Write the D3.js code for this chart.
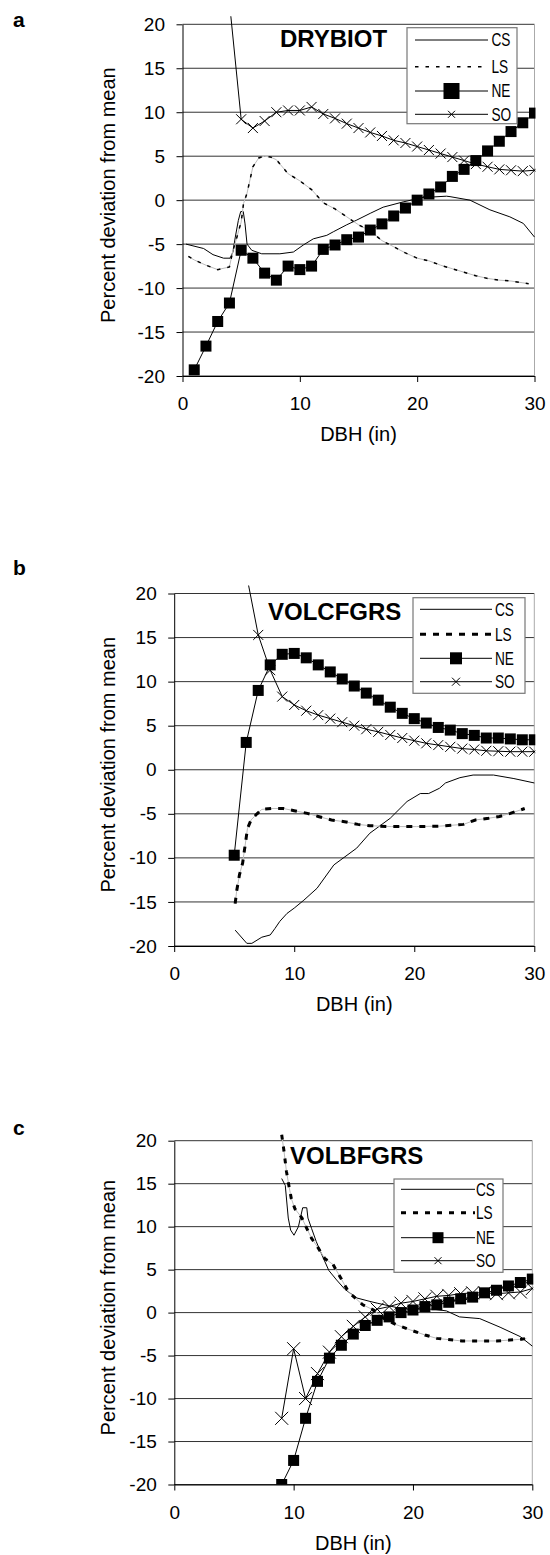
<!DOCTYPE html>
<html>
<head>
<meta charset="utf-8">
<script src="https://cdn.jsdelivr.net/npm/d3@7"></script>
<style>
  body { margin: 0; background: #fff; }
  svg text { font-family: "Liberation Sans", Arial, sans-serif; fill: #000; }
</style>
</head>
<body>
<div id="graph"></div>
<script>
const width = 550;
const height = 1555;

const xTicks = [0, 10, 20, 30];
const yTicks = [-20, -15, -10, -5, 0, 5, 10, 15, 20];
const seriesNames = ["CS", "LS", "NE", "SO"];
const panelLetters = ["a", "b", "c"];
const panelTitles = ["DRYBIOT", "VOLCFGRS", "VOLBFGRS"];

// panel a : DRYBIOT  [DBH, percent deviation]
const aCS = [[0.3,-5.0],[1.8,-5.5],[2.6,-6.2],[3.5,-6.6],[4.05,-6.6],[4.3,-5.9],[4.5,-4.2],[4.76,-2.3],[4.96,-1.3],
  [5.18,-1.3],[5.33,-2.7],[5.5,-5.0],[5.9,-5.7],[6.75,-6.1],[8.3,-6.1],[9.45,-5.9],[10.3,-5.1],[11.15,-4.4],
  [12.3,-4.0],[12.85,-3.6],[14.0,-2.8],[14.8,-2.3],[16.0,-1.5],[17.1,-0.8],[18.8,-0.2],[20.5,0.3],[22.5,0.45],
  [22.8,0.4],[24.5,0.0],[26.2,-1.1],[27.9,-1.9],[29.05,-2.65],[30,-4.2]];
const aLS = [[0.5,-6.4],[1,-6.8],[2,-7.4],[3,-7.9],[4,-7.6],[4.3,-5.7],[4.6,-4.4],[4.8,-3.4],[5,-2.5],[5.2,-0.4],
  [5.5,0.8],[6,3.8],[6.5,4.8],[7,5.0],[7.5,4.9],[8,4.6],[9,3.0],[10,2.2],[11,1.2],[12,-0.3],[13,-1.0],[14,-1.9],
  [15,-2.8],[16,-3.5],[17,-4.6],[18,-5.3],[19,-6.0],[20,-6.6],[21,-6.9],[22,-7.4],[23,-7.8],[24,-8.2],[25,-8.6],
  [26,-8.9],[27,-9.1],[28,-9.2],[29,-9.4],[29.5,-9.5]];
const aNE = [[1,-19.3],[2,-16.6],[3,-13.8],[4,-11.7],[5,-5.7],[6,-6.6],[7,-8.3],[8,-9.1],[9,-7.5],[10,-7.9],
  [11,-7.5],[12,-5.6],[13,-5.1],[14,-4.5],[15,-4.2],[16,-3.4],[17,-2.7],[18,-1.8],[19,-0.9],[20,0.0],[21,0.7],
  [22,1.5],[23,2.7],[24,3.5],[25,4.5],[26,5.6],[27,6.7],[28,7.8],[29,8.8],[30,9.9]];
const aSO = [[4,22.5],[5,9.2],[6,8.2],[7,9.0],[8,10.0],[9,10.2],[10,10.2],[11,10.6],[12,9.8],[13,9.3],[14,8.7],
  [15,8.2],[16,7.7],[17,7.3],[18,6.8],[19,6.5],[20,6.1],[21,5.7],[22,5.3],[23,4.9],[24,4.5],[25,4.1],[26,3.8],
  [27,3.5],[28,3.4],[29,3.3],[30,3.4]];

// panel b : VOLCFGRS
const bCS = [[5.08,-18.2],[6.05,-19.7],[6.47,-19.7],[7.3,-19.0],[8.0,-18.75],[8.4,-18.0],[8.8,-17.2],[9.4,-16.3],
  [10.0,-15.7],[10.8,-14.8],[11.9,-13.45],[13.3,-10.8],[15.2,-8.9],[16.3,-7.2],[18.0,-5.5],[19.4,-3.6],[20.5,-2.7],
  [21.2,-2.7],[22.1,-2.1],[22.6,-1.5],[23.8,-0.9],[24.9,-0.6],[26.6,-0.6],[28.3,-1.0],[30,-1.5]];
const bLS = [[5.08,-15.2],[5.2,-13.8],[5.44,-11.9],[5.7,-10.6],[6.0,-7.7],[6.1,-6.7],[6.4,-5.7],[6.9,-5.0],
  [7.3,-4.5],[8.1,-4.4],[9.1,-4.4],[10.0,-4.65],[11.1,-4.95],[12.0,-5.3],[13.1,-5.7],[14.2,-5.9],[15.3,-6.2],
  [16.3,-6.35],[18.1,-6.45],[20.2,-6.45],[22.1,-6.4],[24.1,-6.2],[25.1,-5.7],[26.2,-5.5],[27.1,-5.3],[28.0,-4.95],
  [29.2,-4.4]];
const bNE = [[5,-9.7],[6,3.1],[7,9.0],[8,11.9],[9,13.1],[10,13.2],[11,12.7],[12,11.9],[13,11.1],[14,10.3],
  [15,9.5],[16,8.7],[17,7.9],[18,7.1],[19,6.4],[20,5.8],[21,5.3],[22,4.8],[23,4.5],[24,4.1],[25,3.9],[26,3.6],
  [27,3.6],[28,3.5],[29,3.4],[30,3.4]];
const bSO = [[6,22.3],[7,15.3],[8,11.3],[9,8.3],[10,7.35],[11,6.7],[12,6.2],[13,5.8],[14,5.4],[15,5.0],[16,4.6],
  [17,4.3],[18,3.95],[19,3.6],[20,3.3],[21,3.0],[22,2.8],[23,2.6],[24,2.4],[25,2.3],[26,2.15],[27,2.1],
  [28,2.05],[29,2.05],[30,2.05]];

// panel c : VOLBFGRS
const cCS = [[9.0,15.6],[9.3,14.8],[9.55,11.0],[9.75,9.6],[10.03,9.0],[10.4,10.0],[10.76,12.2],[11.1,12.2],
  [11.2,11.0],[11.5,9.8],[11.9,8.25],[12.5,6.3],[12.95,4.9],[13.6,3.8],[14.3,2.7],[15.3,1.7],[16.4,1.3],
  [17.0,1.1],[18.6,0.6],[19.75,0.4],[21.7,0.4],[22.8,0.2],[23.9,-0.5],[25.6,-0.7],[27.3,-1.7],[29.0,-2.8],[30,-3.9]];
const cLS = [[9.0,20.7],[9.2,18.7],[9.4,16.4],[9.6,14.8],[9.8,13.3],[10.1,12.1],[10.7,11.0],[11.1,9.8],
  [11.5,8.65],[12.07,7.5],[12.6,6.3],[13.3,5.6],[14.0,3.9],[14.6,2.4],[15.8,0.9],[16.7,0.3],[17.6,-0.7],
  [18.6,-1.4],[19.75,-2.0],[21.0,-2.6],[22.0,-3.0],[24.1,-3.3],[27.0,-3.3],[28.1,-3.2],[29.1,-3.1],[29.5,-3.0]];
const cNE = [[9,-20],[10,-17.2],[11,-12.3],[12,-8.0],[13,-5.3],[14,-3.8],[15,-2.5],[16,-1.5],[17,-0.9],
  [18,-0.5],[19,0.0],[20,0.3],[21,0.7],[22,0.9],[23,1.2],[24,1.6],[25,1.8],[26,2.3],[27,2.6],[28,3.1],[29,3.5],[30,3.9]];
const cSO = [[9,-12.3],[10,-4.2],[11,-10.0],[12,-7.1],[13,-4.6],[14,-2.8],[15,-1.6],[16,-0.5],[17,0.4],[18,0.7],
  [19,1.1],[20,1.3],[21,1.6],[22,1.9],[23,2.0],[24,2.2],[25,2.3],[26,2.3],[27,2.2],[28,2.3],[29,2.4],[30,2.8]];

const panelData = [
  {CS: aCS, LS: aLS, NE: aNE, SO: aSO},
  {CS: bCS, LS: bLS, NE: bNE, SO: bSO},
  {CS: cCS, LS: cLS, NE: cNE, SO: cSO}
];

// layout of each panel (pixels)
const layout = [
  {left: 182.5, right: 534.5, top: 24.3, bottom: 376, letterY: 27, titleX: 280, titleY: 46.7,
   box: [407, 27.7, 110, 96], lineX: [415, 488], textX: 491.5, rows: [40, 66.7, 91, 114.3], legSq: 16, legX: 3.5,
   lsDash: "3.5,7", lsWidth: 1.5, soSize: 5},
  {left: 174.2, right: 534.3, top: 593.5, bottom: 946, letterY: 575, titleX: 268, titleY: 620,
   box: [413, 597.7, 112, 95.6], lineX: [420, 492], textX: 495, rows: [609.3, 634.3, 658.3, 681.7], legSq: 12, legX: 4,
   lsDash: "6,7", lsWidth: 3, soSize: 5},
  {left: 174.3, right: 532.3, top: 1140.7, bottom: 1484.5, letterY: 1135, titleX: 290, titleY: 1164,
   box: [394, 1179, 109, 93.3], lineX: [401, 475], textX: 476, rows: [1189.3, 1212.7, 1237.7, 1260.7], legSq: 11, legX: 3.5,
   lsDash: "5,7", lsWidth: 3, soSize: 6.5}
];

const svg = d3.create("svg")
  .attr("width", width)
  .attr("height", height)
  .attr("viewBox", `0 0 ${width} ${height}`);

const xMark = s => `M${-s},${-s}L${s},${s}M${-s},${s}L${s},${-s}`;
const plainNum = d => String(d);

layout.forEach((p, i) => {
  const data = panelData[i];
  const g = svg.append("g");

  const x = d3.scaleLinear().domain([0, 30]).range([p.left, p.right]);
  const y = d3.scaleLinear().domain([-20, 20]).range([p.bottom, p.top]);

  // gridlines
  g.append("g")
    .selectAll("line")
    .data(yTicks)
    .join("line")
    .attr("x1", p.left)
    .attr("x2", p.right)
    .attr("y1", d => y(d))
    .attr("y2", d => y(d))
    .attr("stroke", "#333")
    .attr("stroke-width", 1);

  // plot area right border
  g.append("line")
    .attr("x1", p.right).attr("x2", p.right)
    .attr("y1", p.top).attr("y2", p.bottom)
    .attr("stroke", "#aaa");

  // axes
  const yAxis = g.append("g")
    .attr("transform", `translate(${p.left},0)`)
    .call(d3.axisLeft(y).tickValues(yTicks).tickFormat(plainNum)
      .tickSize(6).tickSizeOuter(0).tickPadding(11.5));
  const xAxis = g.append("g")
    .attr("transform", `translate(0,${p.bottom})`)
    .call(d3.axisBottom(x).tickValues(xTicks).tickFormat(plainNum)
      .tickSize(6).tickSizeOuter(0).tickPadding(15));
  [yAxis, xAxis].forEach(a => {
    a.attr("font-family", null).attr("font-size", 19);
    a.selectAll("line, path").attr("stroke", "#000");
  });

  // axis titles
  g.append("text")
    .attr("transform", `translate(115,${(p.top + p.bottom) / 2 - 5}) rotate(-90)`)
    .attr("text-anchor", "middle")
    .attr("font-size", 20)
    .text("Percent deviation from mean");
  g.append("text")
    .attr("x", (p.left + p.right) / 2)
    .attr("y", p.bottom + 65)
    .attr("text-anchor", "middle")
    .attr("font-size", 20)
    .text("DBH (in)");

  // panel letter
  g.append("text")
    .attr("x", 13)
    .attr("y", p.letterY)
    .attr("font-size", 21)
    .attr("font-weight", "bold")
    .text(panelLetters[i]);

  // series
  const clipId = `clip${i}`;
  svg.append("clipPath").attr("id", clipId)
    .append("rect")
    .attr("x", p.left).attr("y", p.top - 8)
    .attr("width", p.right - p.left + 1).attr("height", p.bottom - p.top + 8);

  const plot = g.append("g").attr("clip-path", `url(#${clipId})`);
  const line = d3.line().x(d => x(d[0])).y(d => y(d[1]));

  plot.append("path")
    .attr("d", line(data.CS))
    .attr("fill", "none").attr("stroke", "#000").attr("stroke-width", 1);

  plot.append("path")
    .attr("d", line(data.LS))
    .attr("fill", "none").attr("stroke", "#bbb").attr("stroke-width", 1);
  plot.append("path")
    .attr("d", line(data.LS))
    .attr("fill", "none").attr("stroke", "#000")
    .attr("stroke-width", p.lsWidth)
    .attr("stroke-dasharray", p.lsDash);

  plot.append("path")
    .attr("d", line(data.NE))
    .attr("fill", "none").attr("stroke", "#000").attr("stroke-width", 1);
  plot.selectAll(".ne")
    .data(data.NE)
    .join("rect")
    .attr("class", "ne")
    .attr("x", d => x(d[0]) - 5.5)
    .attr("y", d => y(d[1]) - 5.5)
    .attr("width", 11).attr("height", 11)
    .attr("fill", "#000");

  plot.append("path")
    .attr("d", line(data.SO))
    .attr("fill", "none").attr("stroke", "#000").attr("stroke-width", 1);
  plot.selectAll(".so")
    .data(data.SO)
    .join("path")
    .attr("class", "so")
    .attr("transform", d => `translate(${x(d[0])},${y(d[1])})`)
    .attr("d", xMark(p.soSize))
    .attr("fill", "none").attr("stroke", "#000").attr("stroke-width", 1);

  // chart title
  g.append("text")
    .attr("x", p.titleX)
    .attr("y", p.titleY)
    .attr("font-size", 24)
    .attr("font-weight", "bold")
    .text(panelTitles[i]);

  // legend
  const legend = g.append("g");
  legend.append("rect")
    .attr("x", p.box[0]).attr("y", p.box[1])
    .attr("width", p.box[2]).attr("height", p.box[3])
    .attr("fill", "#fff").attr("stroke", "#777").attr("stroke-width", 1.2);

  const mid = (p.lineX[0] + p.lineX[1]) / 2;
  seriesNames.forEach((name, k) => {
    const ry = p.rows[k];
    const ln = legend.append("line")
      .attr("x1", p.lineX[0]).attr("x2", p.lineX[1])
      .attr("y1", ry).attr("y2", ry)
      .attr("stroke", "#000").attr("stroke-width", 1);
    if (name === "LS") {
      ln.attr("stroke-width", p.lsWidth).attr("stroke-dasharray", p.lsDash);
    }
    if (name === "NE") {
      legend.append("rect")
        .attr("x", mid - p.legSq / 2).attr("y", ry - p.legSq / 2)
        .attr("width", p.legSq).attr("height", p.legSq)
        .attr("fill", "#000");
    }
    if (name === "SO") {
      legend.append("path")
        .attr("transform", `translate(${mid},${ry})`)
        .attr("d", xMark(p.legX))
        .attr("stroke", "#000").attr("fill", "none");
    }
    legend.append("text")
      .attr("transform", `translate(${p.textX},${ry}) scale(0.76,1)`)
      .attr("dy", "0.35em")
      .attr("font-size", 18)
      .text(name);
  });
});

d3.select("#graph").append(() => svg.node());
</script>
</body>
</html>
